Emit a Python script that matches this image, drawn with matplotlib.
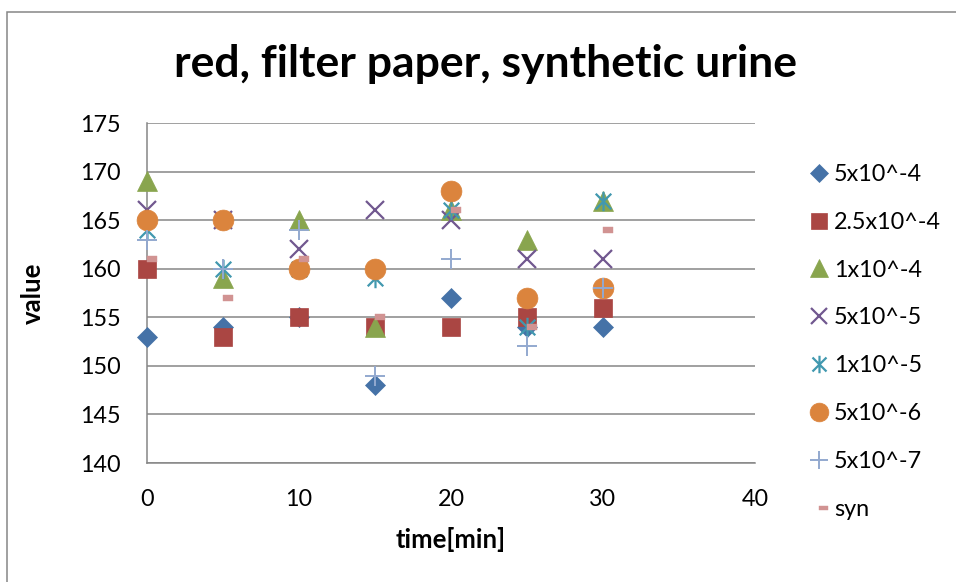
import matplotlib
matplotlib.use("Agg")
import matplotlib.pyplot as plt
from matplotlib.path import Path
from matplotlib.patches import Rectangle

plt.rcParams['font.family'] = ['Lato', 'DejaVu Sans']

# measurement times
time_min = [0, 5, 10, 15, 20, 25, 30]

# series labels
labels = ["5x10^-4", "2.5x10^-4", "1x10^-4", "5x10^-5",
          "1x10^-5", "5x10^-6", "5x10^-7", "syn"]

# values per series
s_5e4 = [153, 154, 155, 148, 157, 154, 154]
s_25e4 = [160, 153, 155, 154, 154, 155, 156]
s_1e4 = [169, 159, 165, 154, 166, 163, 167]
s_5e5 = [166, 165, 162, 166, 165, 161, 161]
s_1e5 = [164, 160, 160, 159, 166, 154, 167]
s_5e6 = [165, 165, 160, 160, 168, 157, 158]
s_5e7 = [163, 160, 164, 149, 161, 152, 158]
s_syn = [161, 157, 161, 155, 166, 154, 164]

series = [s_5e4, s_25e4, s_1e4, s_5e5, s_1e5, s_5e6, s_5e7, s_syn]

# six-armed star (X with a vertical bar)
star = Path([(-1, -1), (1, 1), (-1, 1), (1, -1), (0, -1.25), (0, 1.25)],
            [Path.MOVETO, Path.LINETO, Path.MOVETO, Path.LINETO,
             Path.MOVETO, Path.LINETO])
# short dash starting at the point and running to the right
dash = Path([(0, -0.25), (1, -0.25), (1, 0.25), (0, 0.25), (0, -0.25)],
            [Path.MOVETO, Path.LINETO, Path.LINETO, Path.LINETO, Path.CLOSEPOLY])

styles = [
    dict(marker="D", ms=10, mfc="#4572A7", mec="#4572A7", mew=0.5),
    dict(marker="s", ms=13.5, mfc="#AA4643", mec="#AA4643", mew=0.5),
    dict(marker="^", ms=14, mfc="#89A54E", mec="#89A54E", mew=0.5),
    dict(marker="x", ms=13, mfc="none", mec="#71588F", mew=1.6),
    dict(marker=star, ms=14, mfc="none", mec="#4198AF", mew=1.6),
    dict(marker="o", ms=15, mfc="#DB843D", mec="#DB843D", mew=0.5),
    dict(marker="+", ms=15, mfc="none", mec="#93A9CF", mew=1.4),
    dict(marker=dash, ms=14.5, mfc="#D19392", mec="#D19392", mew=0.3),
]

W, H = 956, 582
fig = plt.figure(figsize=(W / 100, H / 100), dpi=100)

# chart frame
fig.patches.append(Rectangle((7 / W, -0.2), 1.3, 1 - 12 / H + 0.2,
                             transform=fig.transFigure, fill=False,
                             edgecolor="#868686", linewidth=1.1))

ax = fig.add_axes([147 / W, 1 - 463 / H, (755 - 147) / W, (463 - 123) / H])

grid_c = "#868686"
for i, (vals, lab, st) in enumerate(zip(series, labels, styles)):
    ax.plot(time_min, vals, linestyle="none", label=lab,
            clip_on=False, zorder=3 + i, **st)

ax.set_xlim(0, 40)
ax.set_ylim(140, 175)
ax.set_xticks([0, 10, 20, 30, 40])
ax.set_yticks(range(140, 176, 5))
ax.yaxis.grid(True, color=grid_c, linewidth=1.1)
ax.set_axisbelow(True)
for side in ("top", "right"):
    ax.spines[side].set_visible(False)
for side in ("left", "bottom"):
    ax.spines[side].set_color(grid_c)
    ax.spines[side].set_linewidth(1.1)
ax.tick_params(length=0, labelsize=16.8, pad=19)

fig.text(486 / W, 1 - 64 / H, "red, filter paper, synthetic urine",
         fontsize=32, fontweight="bold", ha="center", va="center")
ax.set_xlabel("time[min]", fontsize=18.5, fontweight="bold", labelpad=12)
ax.set_ylabel("value", fontsize=18.5, fontweight="bold", labelpad=25)

ax.legend(loc="upper left", bbox_to_anchor=(806 / W, 1 - 164 / H),
          bbox_transform=fig.transFigure, frameon=False, fontsize=16.8,
          labelspacing=1.15, handletextpad=0.05, handlelength=1.15,
          markerscale=0.9, borderaxespad=0, borderpad=0)

fig.savefig("out.png", dpi=100)
